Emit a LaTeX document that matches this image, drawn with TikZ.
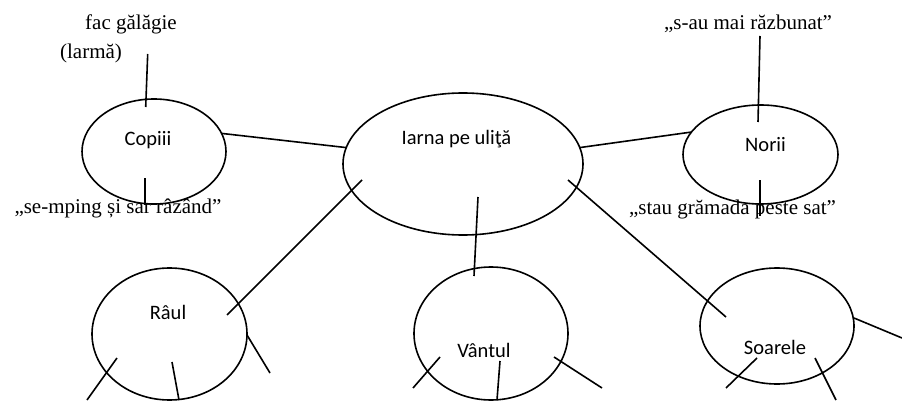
\documentclass[tikz,border=0pt]{standalone}
\usepackage{fontspec}
\setmainfont{Liberation Serif}
\newfontfamily\calibri{Carlito}
\usetikzlibrary{shapes.geometric}

\begin{document}
\begin{tikzpicture}[x=1pt,y=-1pt,line width=1.6pt,
    bubble/.style={draw,ellipse,inner sep=0pt,outer sep=0pt},
    word/.style={font=\calibri\fontsize{20.5}{24}\selectfont,anchor=base,inner sep=0pt},
    quote/.style={font=\fontsize{21}{25}\selectfont,anchor=base,inner sep=0pt}]
    \useasboundingbox (0,0) rectangle (902,401);
    % ellipses
    \node[bubble,minimum width=144pt,minimum height=105pt] (copiii) at (154,151.5) {};
    \node[bubble,minimum width=240pt,minimum height=142pt] (iarna) at (463,164) {};
    \node[bubble,minimum width=155pt,minimum height=99pt] (norii) at (760.5,154.5) {};
    \node[bubble,minimum width=155pt,minimum height=132pt] (raul) at (169.5,334) {};
    \node[bubble,minimum width=154pt,minimum height=133pt] (vantul) at (491,333.5) {};
    \node[bubble,minimum width=154pt,minimum height=116pt] (soarele) at (777,326) {};
    % words inside
    \node[word] (copiiiT) at (148,146) {Copiii};
    \node[word] (iarnaT) at (456.5,145) {Iarna pe uliţă};
    \node[word] (noriiT) at (765.5,152) {Norii};
    \node[word] (raulT) at (168,319) {Râul};
    \node[word] (vantulT) at (484,357) {Vântul};
    \node[word] (soareleT) at (775,354) {Soarele};
    % quotes
    \node[quote] (galagie) at (131,29.5) {fac gălăgie};
    \node[quote] (larma) at (91,59) {(larmă)};
    \node[quote] (mping) at (118,213) {„se-mping și sar râzând”};
    \node[quote] (razbunat) at (748,30) {„s-au mai răzbunat”};
    \node[quote] (gramada) at (732.5,214) {„stau grămada peste sat”};
    % line ends
    \coordinate (cTop) at (147.7,54);
    \coordinate (cTopIn) at (145.7,107);
    \coordinate (cBotIn) at (145,178);
    \coordinate (cBot) at (145,205);
    \coordinate (nTop) at (760,36);
    \coordinate (nTopIn) at (758,122);
    \coordinate (nBotIn) at (760,180);
    \coordinate (nBot) at (760,216);
    \coordinate (iSW) at (362,180);
    \coordinate (rNE) at (227,315);
    \coordinate (iS) at (478,197);
    \coordinate (vN) at (474,276);
    \coordinate (iSE) at (568,180);
    \coordinate (sNW) at (726,317);
    \coordinate (r1) at (117,358);
    \coordinate (r1e) at (87,400);
    \coordinate (r2) at (172,362);
    \coordinate (r2e) at (179,400);
    \coordinate (r3) at (247,335);
    \coordinate (r3e) at (270,373);
    \coordinate (v1) at (440,357);
    \coordinate (v1e) at (413,388);
    \coordinate (v2) at (500,361);
    \coordinate (v2e) at (497,400);
    \coordinate (v3) at (554,357);
    \coordinate (v3e) at (602,388);
    \coordinate (s1) at (757,358);
    \coordinate (s1e) at (726,388);
    \coordinate (s2) at (815,358);
    \coordinate (s2e) at (836,400);
    \coordinate (s3) at (854,318);
    \coordinate (s3e) at (902,338);
    % connectors
    \draw (copiii.15) -- (iarna.172);
    \draw (iarna.8) -- (norii.162);
    \draw (iSW) -- (rNE);
    \draw (iS) -- (vN);
    \draw (iSE) -- (sNW);
    \draw (cTop) -- (cTopIn);
    \draw (cBotIn) -- (cBot);
    \draw (nTop) -- (nTopIn);
    \draw (nBotIn) -- (nBot);
    \draw (r1) -- (r1e);
    \draw (r2) -- (r2e);
    \draw (r3) -- (r3e);
    \draw (v1) -- (v1e);
    \draw (v2) -- (v2e);
    \draw (v3) -- (v3e);
    \draw (s1) -- (s1e);
    \draw (s2) -- (s2e);
    \draw (s3) -- (s3e);
\end{tikzpicture}
\end{document}
